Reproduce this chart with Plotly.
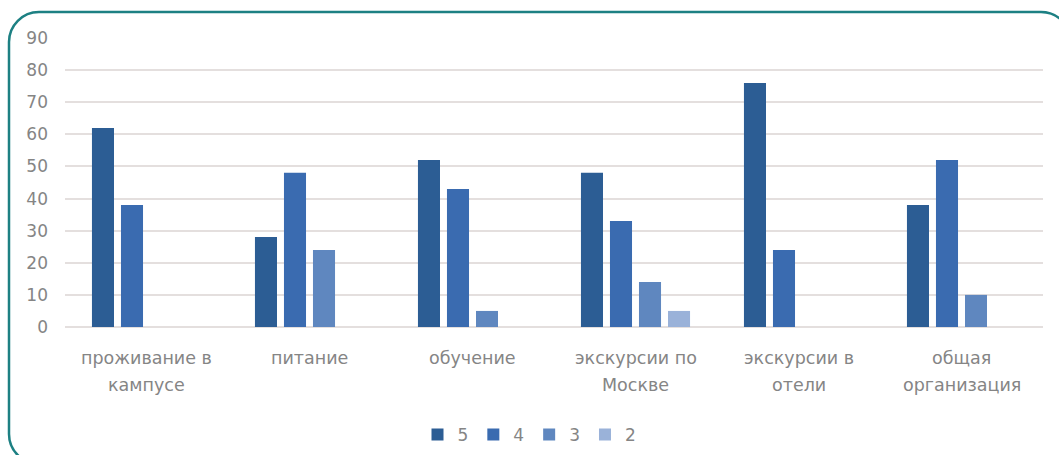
import plotly.graph_objects as go

categories = ["проживание в кампусе", "питание", "обучение",
              "экскурсии по Москве", "экскурсии в отели", "общая организация"]
label_lines = [["проживание в", "кампусе"], ["питание", ""], ["обучение", ""],
               ["экскурсии по", "Москве"], ["экскурсии в", "отели"], ["общая", "организация"]]
series_names = ["5", "4", "3", "2"]
values_5 = [62, 28, 52, 48, 76, 38]
values_4 = [38, 48, 43, 33, 24, 52]
values_3 = [None, 24, 5, 14, None, 10]
values_2 = [None, None, None, 5, None, None]
y_ticks = [0, 10, 20, 30, 40, 50, 60, 70, 80, 90]

colors = ["#2c5d94", "#3a6bb0", "#5f87bf", "#9ab2d9"]
W, H = 1059, 455
L, R, T, B = 65, 16, 38, 128
PW, PH = W - L - R, H - T - B

def px(x):
    return (x - L) / PW

def py(y):
    return (H - B - y) / PH

def P(x, y):
    return f"{px(x)},{py(y)}"

fig = go.Figure()
for name, vals, col in zip(series_names, [values_5, values_4, values_3, values_2], colors):
    fig.add_trace(go.Bar(x=categories, y=vals, name=name, marker_color=col,
                         marker_line_width=0))

for cat, lines in zip(categories, label_lines):
    for i, txt in enumerate(lines):
        if not txt:
            continue
        fig.add_annotation(x=cat, xref="x", y=py(358 + 27 * i), yref="paper",
                           text=txt, showarrow=False, yanchor="middle",
                           font=dict(family="DejaVu Sans", size=17.5, color="#858585"))

# rounded frame (circular corners via cubic beziers)
x0, y0, x1, y1, r = 9, 12, 1071, 464, 30
k = 0.5523 * r
path = (f"M {P(x0, y0 + r)} C {P(x0, y0 + r - k)} {P(x0 + r - k, y0)} {P(x0 + r, y0)} "
        f"L {P(x1 - r, y0)} C {P(x1 - r + k, y0)} {P(x1, y0 + r - k)} {P(x1, y0 + r)} "
        f"L {P(x1, y1 - r)} C {P(x1, y1 - r + k)} {P(x1 - r + k, y1)} {P(x1 - r, y1)} "
        f"L {P(x0 + r, y1)} C {P(x0 + r - k, y1)} {P(x0, y1 - r + k)} {P(x0, y1 - r)} Z")
fig.add_shape(type="path", path=path, xref="paper", yref="paper",
              line=dict(color="#1d8083", width=2.5), layer="above")

fig.update_layout(
    width=W, height=H,
    margin=dict(l=L, r=R, t=T, b=B, autoexpand=False),
    paper_bgcolor="white", plot_bgcolor="white",
    barmode="group", bargap=0.288, bargroupgap=0.24,
    font=dict(family="DejaVu Sans", color="#858585"),
    showlegend=True,
    legend=dict(orientation="h", x=0.5, xanchor="center", xref="container",
                y=1 - 435 / H, yanchor="middle", yref="container",
                font=dict(size=17, color="#858585"), itemwidth=30,
                traceorder="normal", tracegroupgap=0),
    xaxis=dict(showticklabels=False, showgrid=False, zeroline=False, showline=False,
               ticks=""),
    yaxis=dict(range=[0, 90], tickvals=y_ticks, showgrid=True, gridcolor="#e4dfde",
               gridwidth=2, zeroline=True, zerolinecolor="#e4dfde", zerolinewidth=2,
               showline=False, ticks="", ticklabelstandoff=16,
               tickfont=dict(size=17, color="#858585")),
)

fig.write_html("out.html", config={"displayModeBar": False})
